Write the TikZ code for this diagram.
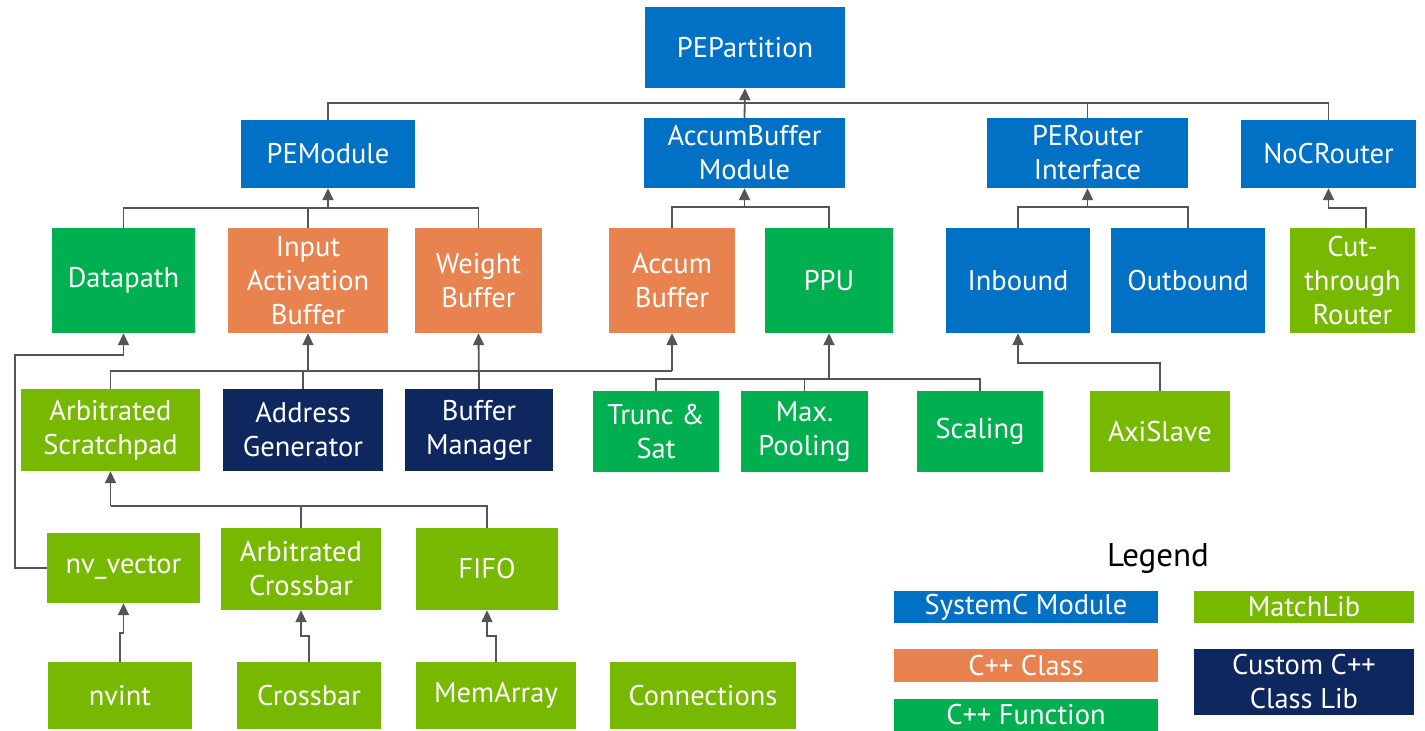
\documentclass[tikz,border=0pt]{standalone}
\usepackage{fontspec}
\setmainfont{PT Sans}
\usetikzlibrary{arrows.meta,calc}
\definecolor{scblue}{RGB}{0,113,197}
\definecolor{cppclass}{RGB}{232,131,80}
\definecolor{cppfunc}{RGB}{0,176,80}
\definecolor{matchlib}{RGB}{118,185,0}
\definecolor{custom}{RGB}{14,40,95}
\definecolor{conncol}{RGB}{85,85,85}
\tikzset{
  box/.style={draw=none, inner sep=0pt, text=white, align=center,
    font=\fontsize{28.5}{34}\selectfont},
  sc/.style={box, fill=scblue},
  cls/.style={box, fill=cppclass},
  fn/.style={box, fill=cppfunc},
  ml/.style={box, fill=matchlib},
  cu/.style={box, fill=custom},
  lg/.style={font=\fontsize{28.5}{34}\selectfont},
  wire/.style={draw=conncol, line width=1.8pt},
  arr/.style={wire, -{Triangle[width=11pt,length=12pt]}},
}
\newcommand{\bx}[7]{\node[#1, minimum width=#5pt, minimum height=#6pt] (#2) at (#3,#4) {#7};}
\begin{document}
\begin{tikzpicture}[x=1pt,y=-1pt]
\fill[white] (0,0) rectangle (1425,731);
\useasboundingbox (0,0) rectangle (1425,731);
% row 1
\bx{sc}{pepart}{745}{47.5}{200}{81}{PEPartition}
% row 2
\bx{sc}{pemod}{328}{154}{174}{68}{PEModule}
\bx{sc}{abmod}{744.5}{153}{201}{70}{AccumBuffer\\Module}
\bx{sc}{perif}{1087.5}{153}{201}{70}{PERouter\\Interface}
\bx{sc}{noc}{1328.5}{154}{175}{68}{NoCRouter}
% row 3
\bx{fn}{datapath}{123.5}{280.5}{143}{105}{Datapath}
\bx{cls}{iab}{308}{280.5}{160}{105}{Input\\Activation\\Buffer}
\bx{cls}{wbuf}{478.5}{280.5}{127}{105}{Weight\\Buffer}
\bx{cls}{accbuf}{672}{280.5}{126}{105}{Accum\\Buffer}
\bx{fn}{ppu}{829}{280.5}{128}{105}{PPU}
\bx{sc}{inbound}{1018}{280.5}{144}{105}{Inbound}
\bx{sc}{outbound}{1188}{280.5}{154}{105}{Outbound}
\bx{ml}{cut}{1352.5}{280.5}{125}{105}{Cut-\\through\\Router}
% row 4
\bx{ml}{arbsp}{110.5}{430}{179}{82}{Arbitrated\\Scratchpad}
\bx{cu}{addrgen}{303}{430}{160}{82}{Address\\Generator}
\bx{cu}{bufmgr}{479}{430}{148}{82}{Buffer\\Manager}
\bx{fn}{trunc}{656}{431.5}{126}{81}{Trunc \&\\Sat}
\bx{fn}{maxpool}{804.5}{431.5}{127}{81}{Max.\\Pooling}
\bx{fn}{scaling}{980}{431.5}{126}{81}{Scaling}
\bx{ml}{axi}{1160}{431.5}{140}{81}{AxiSlave}
% row 5
\bx{ml}{nvvec}{123.5}{568}{153}{70}{nv\_vector}
\bx{ml}{arbxbar}{301}{569}{160}{82}{Arbitrated\\Crossbar}
\bx{ml}{fifo}{487}{569}{142}{82}{FIFO}
% row 6
\bx{ml}{nvint}{120}{695.5}{144}{67}{nvint}
\bx{ml}{crossbar}{309}{695.5}{144}{67}{Crossbar}
\bx{ml}{memarray}{496}{695.5}{160}{67}{MemArray}
\bx{ml}{connections}{703}{695.5}{186}{67}{Connections}
% legend
\node[font=\fontsize{33}{40}\selectfont] (legend) at (1158,558) {Legend};
\bx{sc,lg}{lgsc}{1026}{607}{264}{32}{SystemC Module}
\bx{cls,lg}{lgcls}{1026}{665.5}{264}{33}{C++ Class}
\bx{fn,lg}{lgfn}{1026}{715}{264}{32}{C++ Function}
\bx{ml,lg}{lgml}{1304}{607}{220}{32}{MatchLib}
\bx{cu,lg}{lgcu}{1304}{682}{220}{66}{Custom C++\\Class Lib}
% coordinates
\coordinate (b1) at (745,103);
\coordinate (b2) at (328,208);
\coordinate (b3) at (744.5,207);
\coordinate (b4) at (1087.5,207);
\coordinate (b5) at (672,371);
\coordinate (b6) at (829,379);
\coordinate (b7) at (110.5,506);
\coordinate (dpturn) at (15,355);
\coordinate (cutin) at (1366,228);
% connectors
\draw[wire] (pemod.north) |- (b1) -| (noc.north);
\draw[wire] (perif.north) |- (b1);
\draw[arr] (abmod.north) -- (pepart.south);
\draw[wire] (datapath.north) |- (b2) -| (wbuf.north);
\draw[wire] (iab.north) -- (iab.north |- b2);
\draw[arr] (b2) -- (pemod.south);
\draw[wire] (accbuf.north) |- (b3) -| (ppu.north);
\draw[arr] (b3) -- (abmod.south);
\draw[wire] (inbound.north) |- (b4) -| (outbound.north);
\draw[arr] (b4) -- (perif.south);
\draw[arr] (cutin) -- ++(0,-20) -| (noc.south);
\draw[wire] (arbsp.north) |- (b5);
\draw[arr] (b5) -- (accbuf.south);
\draw[wire] (addrgen.north) -- (addrgen.north |- b5);
\draw[arr] (iab.south |- b5) -- (iab.south);
\draw[arr] (bufmgr.north) -- (wbuf.south);
\draw[wire] (trunc.north) |- (b6) -| (scaling.north);
\draw[wire] (maxpool.north) -- (maxpool.north |- b6);
\draw[arr] (b6) -- (ppu.south);
\draw[arr] (axi.north) -- ++(0,-28) -| (inbound.south);
\draw[arr] (nvvec.west) -| (dpturn) -| (datapath.south);
\draw[wire] (fifo.north) |- (b7);
\draw[wire] (arbxbar.north) -- (arbxbar.north |- b7);
\draw[arr] (b7) -- (arbsp.south);
\draw[arr] (nvint.north) -- ++(0,-29) -| (nvvec.south);
\draw[arr] (crossbar.north) -- ++(0,-26) -| (arbxbar.south);
\draw[arr] (memarray.north) -- ++(0,-26) -| (fifo.south);
\end{tikzpicture}
\end{document}
